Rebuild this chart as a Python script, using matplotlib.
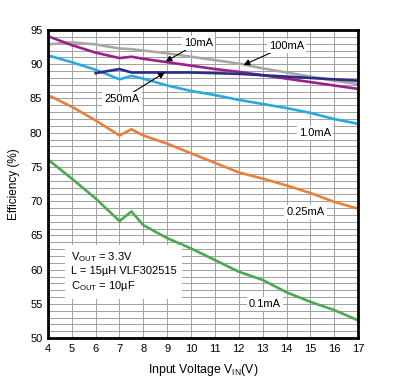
import numpy as np
import matplotlib
matplotlib.use('Agg')
import matplotlib.pyplot as plt

plt.rcParams['font.family'] = ['Liberation Sans', 'DejaVu Sans']
plt.rcParams['mathtext.fontset'] = 'custom'
plt.rcParams['mathtext.rm'] = 'Liberation Sans'

#%% data
v_full = [4, 5, 6, 7, 7.5, 8, 9, 10, 11, 12, 13, 14, 15, 16, 17]
v_250 = [6, 7, 7.5, 8, 9, 10, 11, 12, 13, 14, 15, 16, 17]

eff_100mA = [92.9, 93.2, 92.9, 92.3, 92.2, 92.0, 91.6, 91.1, 90.6, 90.1, 89.4, 88.8, 88.2, 87.6, 87.1]
eff_10mA = [94.1, 92.8, 91.7, 90.9, 91.1, 90.8, 90.3, 89.8, 89.3, 88.9, 88.4, 87.9, 87.4, 86.9, 86.4]
eff_250mA = [88.7, 89.3, 88.8, 88.8, 88.8, 88.8, 88.7, 88.6, 88.4, 88.2, 88.0, 87.8, 87.6]
eff_1mA = [91.3, 90.3, 89.2, 87.8, 88.3, 87.9, 86.9, 86.1, 85.5, 84.8, 84.2, 83.6, 82.9, 82.0, 81.3]
eff_025mA = [85.5, 83.8, 81.8, 79.6, 80.5, 79.6, 78.4, 77.0, 75.6, 74.2, 73.3, 72.3, 71.2, 69.9, 68.9]
eff_01mA = [76.1, 73.3, 70.4, 67.1, 68.5, 66.5, 64.6, 63.1, 61.4, 59.7, 58.5, 56.7, 55.3, 54.1, 52.6]

#%% figure
fig = plt.figure(figsize=(4.06, 3.9), dpi=100)
ax = fig.add_axes([0.118, 0.133, 0.764, 0.790])

lw = 1.9
ax.plot(v_full, eff_100mA, color='#a8a8a8', lw=lw, zorder=3)
ax.plot(v_full, eff_10mA, color='#9e1f8c', lw=lw, zorder=3)
ax.plot(v_250, eff_250mA, color='#2b2d86', lw=lw, zorder=4)
ax.plot(v_full, eff_1mA, color='#27a9e1', lw=lw, zorder=3)
ax.plot(v_full, eff_025mA, color='#e8803d', lw=lw, zorder=3)
ax.plot(v_full, eff_01mA, color='#4aaa4f', lw=lw, zorder=3)

ax.set_xlim(4, 17)
ax.set_ylim(50, 95)
ax.set_xticks(np.arange(4, 18, 1))
ax.set_yticks(np.arange(50, 96, 5))
ax.set_yticks(np.arange(50, 96, 1), minor=True)
ax.grid(which='both', color='#a0a0a0', lw=0.7, zorder=1)
ax.set_axisbelow(True)
ax.tick_params(which='both', length=0, labelsize=8, pad=4)
for s in ax.spines.values():
    s.set_linewidth(2)
    s.set_zorder(6)

ax.set_xlabel(r'Input Voltage V$_{\mathregular{IN}}$(V)', fontsize=8.8, labelpad=6)
ax.set_ylabel('Efficiency (%)', fontsize=8.5, labelpad=7)

#%% labels
box = dict(facecolor='white', edgecolor='none', pad=1.5)
arr = dict(arrowstyle='-|>', color='black', lw=0.8, mutation_scale=9, shrinkA=0, shrinkB=0)

ax.annotate('10mA', xy=(8.93, 90.4), xytext=(10.3, 93.1), fontsize=8,
            ha='center', va='center', bbox=box, arrowprops=arr, zorder=7)
ax.annotate('100mA', xy=(12.2, 89.9), xytext=(14.0, 92.7), fontsize=8,
            ha='center', va='center', bbox=box, arrowprops=arr, zorder=7)
ax.annotate('250mA', xy=(8.9, 88.8), xytext=(7.1, 84.9), fontsize=8,
            ha='center', va='center', bbox=box, arrowprops=arr, zorder=7)
ax.text(15.2, 80.0, '1.0mA', fontsize=8, ha='center', va='center', bbox=box, zorder=7)
ax.text(14.8, 68.4, '0.25mA', fontsize=8, ha='center', va='center', bbox=box, zorder=7)
ax.text(13.1, 55.0, '0.1mA', fontsize=8, ha='center', va='center', bbox=box, zorder=7)

ax.text(4.95, 59.7,
        'V$_{\\mathregular{OUT}}$ = 3.3V\nL = 15\u00b5H VLF302515\nC$_{\\mathregular{OUT}}$ = 10\u00b5F',
        fontsize=8, ha='left', va='center', linespacing=1.3,
        bbox=dict(facecolor='white', edgecolor='none', pad=4), zorder=7)

plt.savefig('out.png', dpi=100)
